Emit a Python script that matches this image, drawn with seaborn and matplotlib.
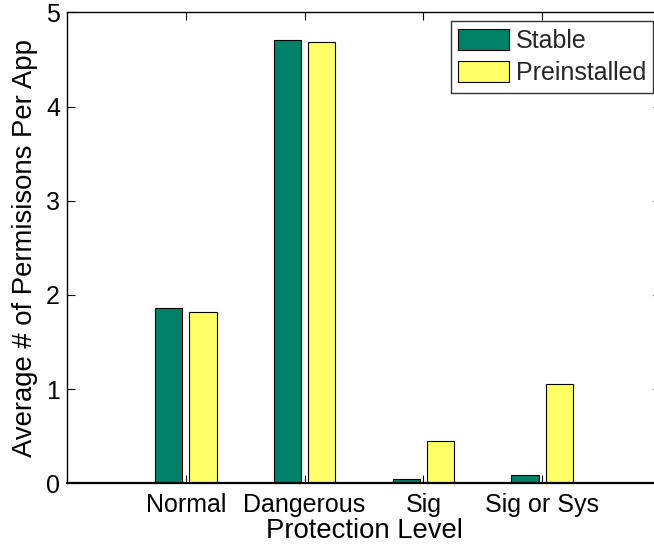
import matplotlib
matplotlib.use("Agg")
import matplotlib.pyplot as plt
import seaborn as sns
import pandas as pd

levels = ["Normal", "Dangerous", "Sig", "Sig or Sys"]
stable = [1.86, 4.71, 0.05, 0.085]
preinstalled = [1.82, 4.685, 0.45, 1.05]
series_names = ["Stable", "Preinstalled"]
yticks = [0, 1, 2, 3, 4, 5]

df = pd.DataFrame({
    "level": levels * 2,
    "value": stable + preinstalled,
    "series": [series_names[0]] * len(levels) + [series_names[1]] * len(levels),
})

sns.set_theme(style="white")
plt.rcParams["font.family"] = ["Liberation Sans", "DejaVu Sans"]
FS = 18.0
LFS = 19.8

fig = plt.figure(figsize=(6.54, 5.47), dpi=100)
W, H = 654, 547
ax = fig.add_axes([67 / W, (H - 483.3) / H, 594 / W, (483.3 - 12.3) / H])

sns.barplot(data=df, x="level", y="value", hue="series", order=levels,
            hue_order=series_names, palette=["#008066", "#FFFF66"], saturation=1,
            width=0.575, gap=0.2, edgecolor="black", linewidth=0.8, ax=ax)

ax.set_xlim(-1, 4)
ax.set_ylim(0, 5)
ax.set_yticks(yticks)
ax.set_yticklabels([str(t) for t in yticks])
ax.tick_params(direction="in", length=6, width=0.8, top=True, bottom=True,
               left=True, right=True, labelsize=FS, colors="black", pad=5)
ax.tick_params(axis="x", pad=7)
for s in ax.spines.values():
    s.set_color("black")
    s.set_linewidth(1.0)
ax.spines["bottom"].set_linewidth(1.6)

ax.set_xlabel("Protection Level", fontsize=LFS, color="black")
ax.set_ylabel("Average # of Permisisons Per App", fontsize=LFS, color="black")
ax.xaxis.set_label_coords(0.5, -0.074)
ax.yaxis.set_label_coords(-0.049, 0.5)

handles, labels = ax.get_legend_handles_labels()
if ax.get_legend() is not None:
    ax.get_legend().remove()
leg = fig.legend(handles, labels, loc="upper right",
                 bbox_to_anchor=(653.3 / W, 1 - 21.3 / H), bbox_transform=fig.transFigure,
                 borderaxespad=0, fontsize=FS, frameon=True, fancybox=False,
                 handlelength=2.05, handleheight=0.95, handletextpad=0.25,
                 labelspacing=0.3, borderpad=0.3, edgecolor="black")
leg.get_frame().set_linewidth(1.0)

fig.savefig("out.png", dpi=100)
